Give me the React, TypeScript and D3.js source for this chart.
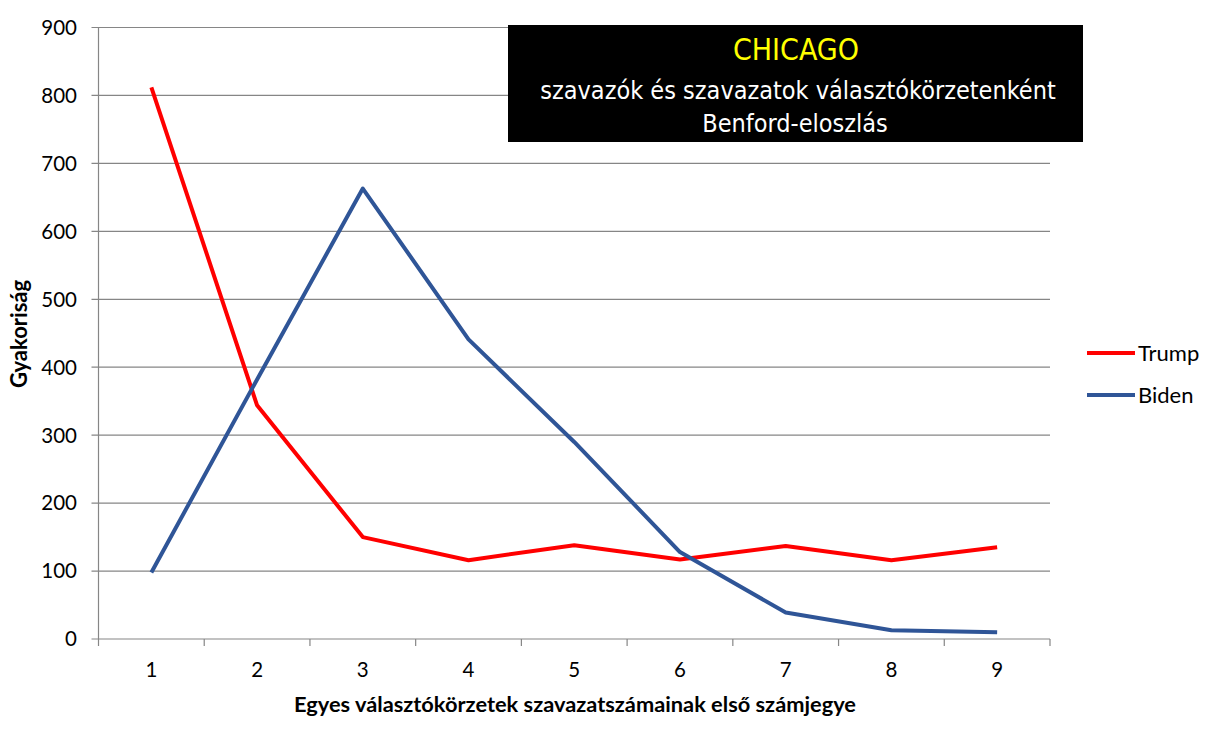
import React from "react";
import * as d3 from "d3";

const digits = ["1", "2", "3", "4", "5", "6", "7", "8", "9"];
const trump = [812, 344, 150, 116, 138, 117, 137, 116, 135];
const biden = [98, 382, 663, 441, 290, 128, 39, 13, 10];
const yTicks = [0, 100, 200, 300, 400, 500, 600, 700, 800, 900];
const titleLines = ["CHICAGO", "szavazók és szavazatok választókörzetenként", "Benford-eloszlás"];
const seriesNames = ["Trump", "Biden"];
const seriesColors = ["#FF0000", "#2F5597"];

const W = 1220;
const H = 734;
const left = 98.5;
const right = 1050;
const top = 27.5;
const bottom = 639;
const font = "Lato, 'Noto Sans', sans-serif";
const titleFont = "'DejaVu Sans Condensed', 'DejaVu Sans', sans-serif";

export default function App() {
  const band = d3.scaleBand<string>().domain(digits).range([left, right]);
  const x = (d: string) => (band(d) as number) + band.bandwidth() / 2;
  const y = d3.scaleLinear().domain([0, 900]).range([bottom, top]);
  const line = d3
    .line<number>()
    .x((_, i) => x(digits[i]))
    .y((v) => y(v));
  const series = [trump, biden];
  const tickEdges = [...digits.map((d) => band(d) as number), right];

  return (
    <svg
      width={W}
      height={H}
      style={{ position: "absolute", left: 0, top: 0, background: "#fff" }}
      fontFamily={font}
    >
      {yTicks.map((t) => (
        <g key={t}>
          <line x1={left - 7} x2={right} y1={y(t)} y2={y(t)} stroke="#868686" strokeWidth={1.2} />
          <text x={77} y={y(t)} dy="0.36em" textAnchor="end" fontSize={20.5} fill="#000">
            {t}
          </text>
        </g>
      ))}
      <line x1={left} x2={left} y1={top} y2={bottom} stroke="#868686" strokeWidth={1.2} />
      {tickEdges.map((e, i) => (
        <line key={i} x1={e} x2={e} y1={bottom} y2={bottom + 7} stroke="#868686" strokeWidth={1.2} />
      ))}
      {digits.map((d) => (
        <text key={d} x={x(d)} y={677} textAnchor="middle" fontSize={20.5} fill="#000">
          {d}
        </text>
      ))}
      {series.map((s, i) => (
        <path
          key={i}
          d={line(s) as string}
          fill="none"
          stroke={seriesColors[i]}
          strokeWidth={4}
          strokeLinejoin="round"
        />
      ))}
      <text x={575} y={712} textAnchor="middle" fontSize={21.8} fontWeight="bold" fill="#000">
        Egyes választókörzetek szavazatszámainak első számjegye
      </text>
      <text
        transform={`translate(27,${334}) rotate(-90)`}
        textAnchor="middle"
        fontSize={22}
        fontWeight="bold"
        fill="#000"
      >
        Gyakoriság
      </text>
      {seriesNames.map((n, i) => (
        <g key={n}>
          <line
            x1={1087}
            x2={1135}
            y1={353 + i * 42}
            y2={353 + i * 42}
            stroke={seriesColors[i]}
            strokeWidth={4}
          />
          <text x={1138} y={353 + i * 42} dy="0.36em" fontSize={22} fill="#000">
            {n}
          </text>
        </g>
      ))}
      <rect x={508} y={25} width={575} height={117} fill="#000" />
      <text x={796} y={60} textAnchor="middle" fontSize={30} fill="#FFFF00" fontFamily={titleFont}>
        {titleLines[0]}
      </text>
      <text x={798} y={99} textAnchor="middle" fontSize={25} fill="#fff" fontFamily={titleFont}>
        {titleLines[1]}
      </text>
      <text x={795} y={132} textAnchor="middle" fontSize={25} fill="#fff" fontFamily={titleFont}>
        {titleLines[2]}
      </text>
    </svg>
  );
}
